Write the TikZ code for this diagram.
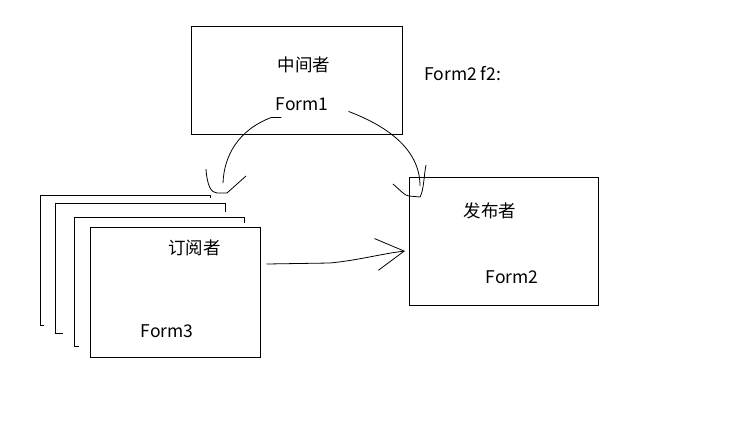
\documentclass[tikz,border=0pt]{standalone}
\usepackage{fontspec}
\setmainfont{Noto Sans CJK SC}
\usepackage{tikz}
\usetikzlibrary{arrows.meta}

\begin{document}
\begin{tikzpicture}[
    x=1pt, y=-1pt,
    every node/.style = {font=\fontsize{17.5}{17.5}\selectfont, inner sep=0pt},
    formbox/.style    = {draw, line width=1pt, minimum width=#1},
    lbl/.style        = {anchor=base},
    hand/.style       = {line width=0.8pt, line join=round},
    flatarr/.style    = {hand, -{Straight Barb[length=28pt, width=32pt, line width=0.8pt]}},
]
\useasboundingbox (0,0) rectangle (739,424);

%% Mediator
\node[formbox=211pt, minimum height=108pt] (mid) at (296.5,80) {};
\node (midname) at (304,65) {中间者};
\node[lbl] (midform) at (302,110) {Form1};
\node[lbl, anchor=base west] (decl) at (424,80) {Form2 f2:};

%% Publisher
\node[formbox=189pt, minimum height=128pt] (pub) at (503.5,241) {};
\node (pubname) at (490,211) {发布者};
\node[lbl] (pubform) at (512,283) {Form2};

%% Subscribers (stack behind)
\foreach \l/\t/\b/\tk/\bt in {40/195/325/3/4, 55/203/333/9/8, 74/217/346/6/5}
  \draw[line width=1pt] (\l+\bt,\b) -- (\l,\b) -- (\l,\t) -- (\l+170,\t) -- (\l+170,\t+\tk);
\node[formbox=170pt, minimum height=130pt, fill=white] (sub) at (175,292) {};
\node (subname) at (194.5,248) {订阅者};
\node[lbl] (subform) at (167,337) {Form3};

%% Connectors
\coordinate (tosub) at (223,183);
\coordinate (topub) at (420,186);
\coordinate (intopub) at (405,251);

\draw[hand] ([xshift=6pt, yshift=-7pt]midform.south west) -- ++(-10,0)
    .. controls (238,130) and (224,156) .. (tosub);
\draw[hand] ([shift={(-17,-14)}]tosub) .. controls ([shift={(-16,2)}]tosub)
    and ([shift={(-12,10)}]tosub) .. ([shift={(-6,10)}]tosub)
    -- ([shift={(4,10)}]tosub) -- ([shift={(23,-7)}]tosub);

\draw[hand] ([xshift=20pt, yshift=-1pt]midform.south east)
    .. controls (392,128) and (420,152) .. (topub);
\draw[hand] ([shift={(-27,-2)}]topub) .. controls ([shift={(-20,4)}]topub)
    and ([shift={(-15,10)}]topub) .. ([shift={(-11,10)}]topub)
    -- ([shift={(0,11)}]topub) .. controls ([shift={(4,4)}]topub)
    and ([shift={(4,-12)}]topub) .. ([shift={(6,-21)}]topub);

\draw[flatarr] ([xshift=6pt]sub.east |- 0,264) -- (330,263)
    .. controls (360,260) and (380,254) .. (intopub);

\end{tikzpicture}
\end{document}
